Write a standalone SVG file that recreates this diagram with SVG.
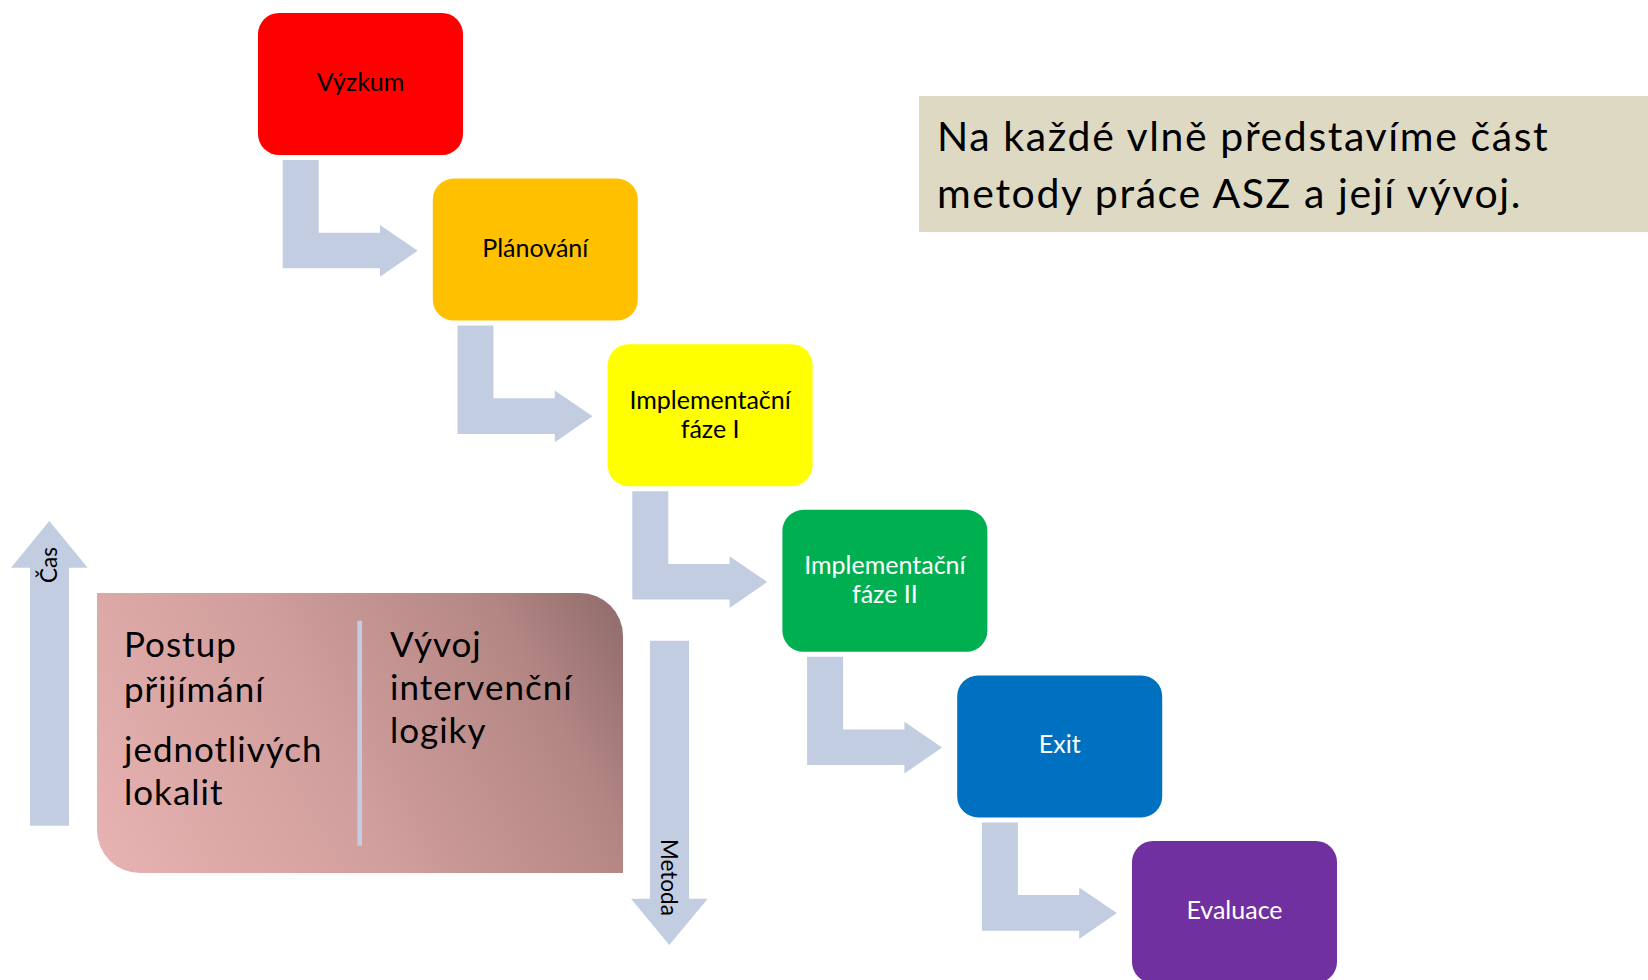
<svg xmlns="http://www.w3.org/2000/svg" xmlns:xlink="http://www.w3.org/1999/xlink" width="1648" height="980" viewBox="0 0 1648 980">
<style>
.box{stroke:none}
.lbl{font-family:Lato,"Liberation Sans",sans-serif;font-size:25px;text-anchor:middle}
.dark{fill:#000}
.light{fill:#fff}
.arr{fill:#C3CDE1}
.big{font-family:Lato,"Liberation Sans",sans-serif;font-size:35px;letter-spacing:1px;fill:#000}
.note{font-family:Lato,"Liberation Sans",sans-serif;font-size:41px;letter-spacing:1.6px;fill:#000}
.axis{font-family:Lato,"Liberation Sans",sans-serif;font-size:22.5px;fill:#000}
</style>
<defs>
<path id="bend" d="M282.7,160 H318.7 V232.7 H380 V225 L417.7,250.7 L380,276.7 V268.3 H282.7 Z"/>
<linearGradient id="pinkGrad" gradientUnits="userSpaceOnUse" x1="97" y1="873" x2="623" y2="593">
<stop offset="0" stop-color="#E8B3B2"/>
<stop offset="0.45" stop-color="#D09E9C"/>
<stop offset="0.8" stop-color="#B38684"/>
<stop offset="1" stop-color="#8E6B69"/>
</linearGradient>
</defs>
<rect width="1648" height="980" fill="#fff"/>

<g id="connectors" class="arr">
<use xlink:href="#bend"/>
<use xlink:href="#bend" transform="translate(174.8,165.6)"/>
<use xlink:href="#bend" transform="translate(349.6,331.2)"/>
<use xlink:href="#bend" transform="translate(524.4,496.8)"/>
<use xlink:href="#bend" transform="translate(699.2,662.4)"/>
</g>

<g id="node-vyzkum">
<rect class="box" x="258" y="13" width="205" height="142" rx="21" fill="#FF0000"/>
<text class="lbl dark" x="360.5" y="91">Výzkum</text>
</g>
<g id="node-planovani">
<rect class="box" x="432.8" y="178.6" width="205" height="142" rx="21" fill="#FFC000"/>
<text class="lbl dark" x="535.3" y="256.6">Plánování</text>
</g>
<g id="node-impl1">
<rect class="box" x="607.6" y="344.2" width="205" height="142" rx="21" fill="#FFFF00"/>
<text class="lbl dark" x="710.1" y="408.5">Implementační</text>
<text class="lbl dark" x="710.1" y="437.5">fáze I</text>
</g>
<g id="node-impl2">
<rect class="box" x="782.4" y="509.8" width="205" height="142" rx="21" fill="#00B050"/>
<text class="lbl light" x="884.9" y="574">Implementační</text>
<text class="lbl light" x="884.9" y="603">fáze II</text>
</g>
<g id="node-exit">
<rect class="box" x="957.2" y="675.4" width="205" height="142" rx="21" fill="#0070C0"/>
<text class="lbl light" x="1059.7" y="753.4">Exit</text>
</g>
<g id="node-evaluace">
<rect class="box" x="1132" y="841" width="205" height="142" rx="21" fill="#7030A0"/>
<text class="lbl light" x="1234.5" y="919">Evaluace</text>
</g>

<g id="note">
<rect x="919" y="96" width="729" height="136" fill="#DDD9C3"/>
<text class="note" x="937" y="150.7">Na každé vlně představíme část</text>
<text class="note" x="937" y="208.3">metody práce ASZ a její vývoj.</text>
</g>

<g id="axis-cas">
<path class="arr" d="M30,825.7 V567.7 H11 L49.3,521 L87.7,567.7 H69 V825.7 Z"/>
<text class="axis" transform="translate(57,583) rotate(-90)">Čas</text>
</g>

<g id="axis-metoda">
<path class="arr" d="M650,640.7 H689 V898.7 H707.7 L669.3,945 L631,898.7 H650 Z"/>
<text class="axis" transform="translate(661,839) rotate(90)">Metoda</text>
</g>

<g id="panel">
<path d="M97,593 H580 A43,43 0 0 1 623,636 V873 H140 A43,43 0 0 1 97,830 Z" fill="url(#pinkGrad)"/>
<rect x="357.4" y="620.7" width="4.6" height="225" fill="#C3CDE1"/>
<text class="big" x="124" y="656.7">Postup</text>
<text class="big" x="124" y="701.7">přijímání</text>
<text class="big" x="124" y="761.7">jednotlivých</text>
<text class="big" x="124" y="805">lokalit</text>
<text class="big" x="390" y="656.7">Vývoj</text>
<text class="big" x="390" y="700">intervenční</text>
<text class="big" x="390" y="743.3">logiky</text>
</g>
</svg>
